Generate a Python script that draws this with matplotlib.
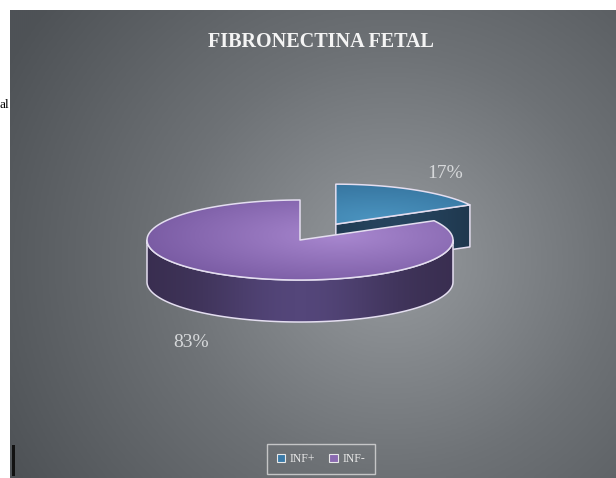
import numpy as np
import matplotlib
matplotlib.use("Agg")
import matplotlib.pyplot as plt
from matplotlib.patches import Polygon, Rectangle, Patch
from matplotlib.colors import LinearSegmentedColormap

# ---- data ----
title = "FIBRONECTINA FETAL"
categories = ["INF+", "INF-"]
values = [17, 83]
explode = [0.46, 0.0]

# ---- style / layout ----
top_colors = [("#2c6690", "#4b94c0"), ("#7658a0", "#a887cf")]
side_colors = [("#172a3c", "#26445e"), ("#382d4e", "#54467a")]
legend_fill = ["#3a7aa8", "#8a6ab0"]
edge_col = "#e4def0"
W, H = 616, 478
CX, CY, A, B, DEPTH = 300, 240, 153, 40, 42

fig = plt.figure(figsize=(W / 100, H / 100), dpi=100)
fig.patch.set_facecolor("white")
ax = fig.add_axes([0, 0, 1, 1])
ax.set_axis_off()

# background radial gradient panel
yy, xx = np.mgrid[10:H:2, 10:W:2]
d = np.sqrt(((xx - 390) / 1.0) ** 2 + ((yy - 260) / 0.95) ** 2)
t = np.clip(1 - d / 440, 0, 1)
bg_cmap = LinearSegmentedColormap.from_list("bg", ["#4e5256", "#6e7276", "#979b9f"])
ax.imshow(t, extent=(10, W, H, 10), cmap=bg_cmap, aspect="auto",
          interpolation="bilinear", zorder=0, vmin=0, vmax=1)


def ept(cx, cy, ang, k=1.0):
    r = np.radians(ang)
    return cx + A * k * np.cos(r), cy - B * k * np.sin(r)


def arc(cx, cy, a0, a1, n=120):
    angs = np.linspace(a0, a1, n)
    r = np.radians(angs)
    return np.column_stack([cx + A * np.cos(r), cy - B * np.sin(r)])


def grad_poly(xy, cols, z, mode="radial", focus=None):
    patch = Polygon(xy, closed=True, facecolor="none", edgecolor="none", zorder=z)
    ax.add_patch(patch)
    x0, y0 = xy.min(axis=0)
    x1, y1 = xy.max(axis=0)
    gy, gx = np.mgrid[y0:y1:1.0, x0:x1:1.0]
    if mode == "radial":
        fx, fy = focus
        dd = np.sqrt(((gx - fx) / A) ** 2 + ((gy - fy) / B) ** 2)
        tt = np.clip(1 - dd / 1.4, 0, 1)
    else:
        fx = focus[0]
        tt = np.exp(-((gx - fx) / (0.6 * A)) ** 2)
    cm = LinearSegmentedColormap.from_list("g", list(cols))
    im = ax.imshow(tt, extent=(x0, x1, y1, y0), cmap=cm, aspect="auto",
                   interpolation="bilinear", zorder=z, vmin=0, vmax=1)
    im.set_clip_path(patch)
    ax.add_patch(Polygon(xy, closed=True, facecolor="none", edgecolor=edge_col,
                         lw=1.1, zorder=z + 0.1, joinstyle="round"))


total = float(sum(values))
starts, ends = [], []
cum = 0.0
for v in values:
    s = 90 - cum / total * 360
    e = s - v / total * 360
    starts.append(s)
    ends.append(e)
    cum += v

z = 2
for i, v in enumerate(values):
    hi, lo = starts[i], ends[i]
    mid = (hi + lo) / 2
    mr = np.radians(mid)
    cx = CX + A * explode[i] * np.cos(mr)
    cy = CY - B * explode[i] * np.sin(mr)
    # visible cut faces
    for ang, vis in ((hi, np.cos(np.radians(hi)) < -1e-6), (lo, np.cos(np.radians(lo)) > 1e-6)):
        if vis:
            px, py = ept(cx, cy, ang)
            face = np.array([[cx, cy], [px, py], [px, py + DEPTH], [cx, cy + DEPTH]])
            grad_poly(face, side_colors[i], z, mode="h", focus=(cx + 60, cy))
    # outer wall, front half only
    for k in range(-2, 3):
        f0, f1 = -180 + 360 * k, 360 * k
        a0, a1 = max(lo, f0), min(hi, f1)
        if a1 > a0:
            top = arc(cx, cy, a0, a1)
            bot = top[::-1] + np.array([0, DEPTH])
            wall = np.vstack([top, bot])
            grad_poly(wall, side_colors[i], z, mode="h", focus=(cx, cy))
    # top surface
    top = np.vstack([[cx, cy], arc(cx, cy, hi, lo), [cx, cy]])
    grad_poly(top, top_colors[i], z + 0.5, mode="radial", focus=(cx + 40, cy - 5))
    # percentage label
    lx, ly = ept(cx, cy, mid, 1.4)
    if np.sin(mr) < 0:
        ly += DEPTH + 14
    ax.text(lx, ly - 2, f"{v}%", color="#d6d8da", fontsize=14, family="Liberation Serif",
            ha="center", va="center", zorder=10)
    z += 1

# title
ax.text(W / 2 + 13, 42, title, color="#f4f4f4", fontsize=14.5, family="Liberation Serif",
        weight="bold", ha="center", va="center", zorder=10)

# legend
handles = [Patch(facecolor=legend_fill[i], edgecolor="#e8e8e8", lw=0.8, label=c)
           for i, c in enumerate(categories)]
leg = ax.legend(handles=handles, ncol=2, loc="center",
                bbox_to_anchor=(321 / W, 1 - 459 / H), bbox_transform=fig.transFigure,
                frameon=True, handlelength=0.7, handleheight=0.7,
                handletextpad=0.4, columnspacing=1.2, borderpad=0.8,
                prop={"family": "Liberation Serif", "size": 8.5})
leg.get_frame().set_facecolor("none")
leg.get_frame().set_edgecolor("#dcdcdc")
leg.get_frame().set_linewidth(1.0)
leg.get_frame().set_boxstyle("square", pad=0)
for txt in leg.get_texts():
    txt.set_color("#e8e8e8")
leg.set_zorder(10)

# page artefacts outside the panel
ax.text(9.5, 105, "al", color="black", fontsize=9.5, family="Liberation Serif",
        ha="right", va="center", zorder=10)
ax.add_patch(Rectangle((12, 445), 2.5, 31, facecolor="#111111", edgecolor="none", zorder=10))

ax.set_xlim(0, W)
ax.set_ylim(H, 0)
fig.savefig("out.png", dpi=100, facecolor="white")
